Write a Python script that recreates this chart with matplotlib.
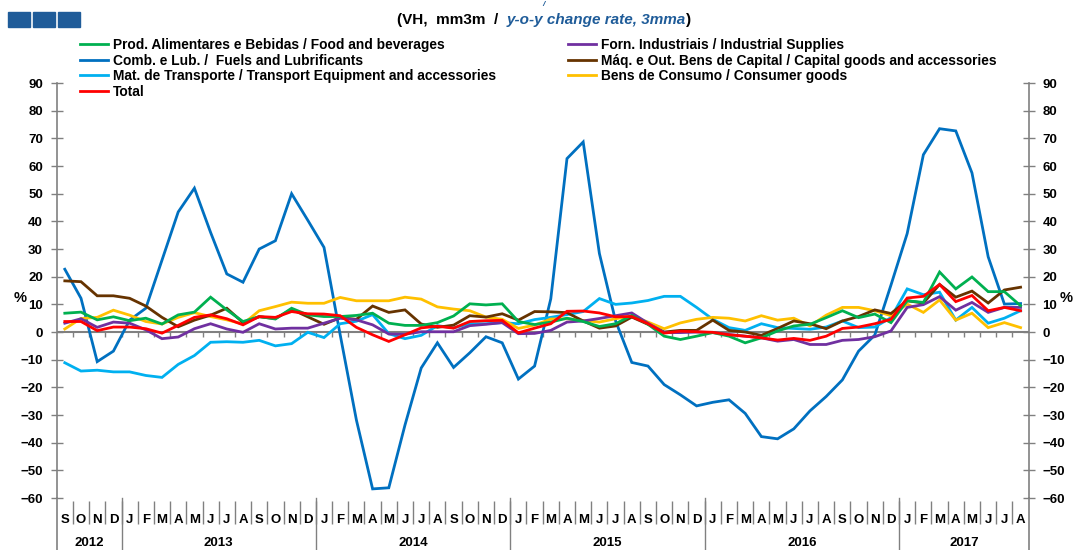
import numpy as np
import matplotlib.pyplot as plt
from matplotlib.patches import Rectangle
import matplotlib.transforms as mtransforms

plt.rcParams['font.family'] = ['Liberation Sans', 'DejaVu Sans']
plt.rcParams['font.weight'] = 'bold'

# month / year categories (Sep 2012 - Aug 2017)
months = ["S", "O", "N", "D"] + ["J", "F", "M", "A", "M", "J", "J", "A", "S", "O", "N", "D"] * 4 \
    + ["J", "F", "M", "A", "M", "J", "J", "A"]
years = ["2012", "2013", "2014", "2015", "2016", "2017"]
year_len = [4, 12, 12, 12, 12, 8]

food = [6.8, 7.2, 4.4, 5.5, 4.1, 5.0, 2.9, 6.2, 7.2, 12.6, 8.0, 3.8, 5.6, 4.7, 8.6, 6.2, 5.6, 5.6, 6.0, 6.8,
        3.2, 2.4, 2.4, 3.4, 5.8, 10.2, 9.8, 10.2, 3.8, 2.7, 3.6, 5.0, 3.8, 2.0, 3.0, 6.0, 2.8, -1.5, -2.7, -1.5,
        -0.2, -1.5, -3.9, -2.1, 0.4, 2.2, 2.8, 5.2, 7.7, 5.2, 6.5, 3.4, 11.3, 10.7, 21.7, 15.6, 19.9, 14.6, 14.6, 9.5]
fuels = [22.7, 12.2, -10.7, -6.9, 4.3, 8.6, 26.0, 43.4, 52.0, 36.0, 21.0, 18.0, 30.0, 33.0, 50.0, 40.4, 30.6, -1.0,
         -31.8, -56.7, -56.3, -33.6, -13.0, -3.9, -12.8, -7.5, -1.7, -3.9, -17.0, -12.3, 12.0, 62.7, 68.7, 28.4,
         4.0, -11.0, -12.3, -19.0, -22.7, -26.7, -25.4, -24.5, -29.4, -37.8, -38.6, -35.0, -28.5, -23.3, -17.3,
         -6.9, -1.1, 17.0, 35.6, 64.1, 73.5, 72.7, 57.5, 27.2, 10.1, 10.3]
transport = [-11.1, -14.1, -13.8, -14.4, -14.4, -15.7, -16.4, -11.7, -8.5, -3.7, -3.5, -3.7, -3.0, -5.0, -4.2,
             -0.1, -2.0, 3.0, 3.9, 6.3, -0.6, -2.4, -1.2, 2.3, 1.5, 3.0, 3.0, 3.4, 3.0, 4.5, 5.3, 6.3, 7.4, 12.1,
             10.0, 10.5, 11.4, 12.9, 12.9, 8.9, 4.6, 1.6, 0.6, 3.0, 1.6, 1.3, 1.0, 1.8, 4.0, 1.6, 1.8, 5.2, 15.6,
             13.5, 14.4, 4.3, 8.9, 3.2, 5.0, 7.7]
total = [3.8, 3.8, 0.5, 1.8, 1.8, 1.2, -0.4, 2.4, 5.3, 6.2, 4.8, 2.6, 5.6, 5.3, 7.4, 6.6, 6.5, 5.9, 1.7, -1.0,
         -3.4, -1.0, 1.5, 2.1, 1.4, 3.8, 4.1, 4.2, -0.3, 1.4, 3.0, 7.5, 7.6, 6.9, 5.5, 5.6, 3.0, -0.4, 0.3, 0.1,
         -0.1, -1.0, -1.5, -2.1, -2.9, -2.3, -3.0, -1.5, 1.3, 1.8, 3.0, 4.6, 12.3, 12.9, 17.2, 11.0, 13.2, 7.7, 8.9, 7.7]
industrial = [3.2, 4.8, 1.7, 3.6, 3.2, 0.8, -2.4, -1.8, 1.2, 3.0, 1.1, -0.1, 3.0, 1.1, 1.4, 1.4, 3.2, 5.0, 4.4,
              2.6, -0.7, -0.8, 0.1, 0.1, 0.1, 2.3, 2.8, 3.4, -0.6, -0.5, 0.6, 3.6, 4.0, 4.9, 5.9, 6.9, 3.2, -0.2,
              -0.2, 0.0, -0.2, -0.9, -1.5, -2.1, -3.3, -2.7, -4.5, -4.5, -3.0, -2.7, -1.7, 0.4, 8.9, 9.9, 12.8,
              7.9, 10.7, 7.1, 8.9, 8.9]
capital = [18.5, 18.2, 13.1, 13.1, 12.2, 9.4, 5.3, 1.9, 4.3, 6.1, 8.6, 3.4, 5.5, 4.9, 8.2, 5.5, 2.8, 5.2, 4.6,
           9.4, 7.1, 8.0, 2.9, 1.7, 2.5, 5.9, 5.4, 6.6, 4.3, 7.4, 7.3, 7.0, 4.0, 1.4, 2.2, 5.4, 2.8, 0.0, 0.6,
           0.6, 4.3, 0.6, 0.0, -1.2, 1.3, 4.0, 3.0, 1.2, 4.0, 5.6, 8.0, 6.7, 11.3, 10.5, 17.2, 12.6, 14.8, 10.5,
           15.2, 16.2]
consumer = [1.1, 4.9, 5.3, 7.9, 6.1, 3.8, 2.9, 5.3, 7.0, 5.6, 4.4, 2.9, 7.7, 9.2, 10.8, 10.4, 10.4, 12.5, 11.3,
            11.3, 11.3, 12.6, 11.9, 9.1, 8.3, 7.7, 5.4, 4.6, 1.3, 2.5, 4.7, 4.8, 4.2, 3.6, 4.8, 5.8, 3.6, 1.2,
            3.3, 4.6, 5.3, 5.0, 4.0, 5.9, 4.3, 5.0, 2.2, 6.1, 8.9, 8.9, 7.7, 5.9, 10.1, 7.1, 11.6, 4.3, 6.8, 1.6,
            3.4, 1.6]

series = [
    ("Comb. e Lub. /  Fuels and Lubrificants", fuels, "#0070C0"),
    ("Mat. de Transporte / Transport Equipment and accessories", transport, "#00B0F0"),
    ("Bens de Consumo / Consumer goods", consumer, "#FFC000"),
    ("Máq. e Out. Bens de Capital / Capital goods and accessories", capital, "#663300"),
    ("Forn. Industriais / Industrial Supplies", industrial, "#7030A0"),
    ("Prod. Alimentares e Bebidas / Food and beverages", food, "#00B050"),
    ("Total", total, "#FF0000"),
]

fig = plt.figure(figsize=(10.74, 5.5), dpi=100)
ax = fig.add_axes([0.0528, 0.0945, 0.905, 0.7545])

x = np.arange(len(months))
handles = {}
for name, vals, col in series:
    ln, = ax.plot(x, vals, color=col, lw=2.0, solid_joinstyle='miter')
    handles[name] = ln

ax.set_xlim(-0.5, len(months) - 0.5)
ax.set_ylim(-60, 90)
ax.set_yticks(np.arange(-60, 91, 10))
ax.tick_params(axis='y', which='both', direction='inout', length=8, width=1, color='#808080',
               left=True, right=True, labelleft=True, labelright=True, labelsize=9.5, pad=6)
for lab in ax.get_yticklabels():
    lab.set_fontweight('bold')
ax.set_xticks([])
for s in ['top', 'bottom']:
    ax.spines[s].set_visible(False)
for s in ['left', 'right']:
    ax.spines[s].set_color('#808080')
    ax.spines[s].set_linewidth(1.2)

# zero line with category tick marks
ax.axhline(0, color='#808080', lw=1.5, zorder=1)
bounds = x[1:] - 0.5
ax.vlines(bounds, -1.8, 0, color='#808080', lw=1, zorder=1)

# category labels below the plot
trans = mtransforms.blended_transform_factory(ax.transData, ax.transAxes)
for i, m in enumerate(months):
    ax.text(i, -0.052, m, transform=trans, ha='center', va='center', fontsize=9.5, fontweight='bold')
ax.vlines(bounds, -0.062, -0.006, transform=trans, color='#808080', lw=1, clip_on=False)
start = -0.5
for yr, n in zip(years, year_len):
    ax.text(start + n / 2, -0.108, yr, transform=trans, ha='center', va='center', fontsize=9.5,
            fontweight='bold')
    start += n
    if start < len(months) - 0.5:
        ax.plot([start, start], [0, -0.14], transform=trans, color='#808080', lw=1, clip_on=False)
for edge in [-0.5, len(months) - 0.5]:
    ax.plot([edge, edge], [0, -0.14], transform=trans, color='#808080', lw=1.2, clip_on=False)

# % labels
fig.text(20 / 1074, 1 - 298 / 550, "%", ha='center', va='center', fontsize=10.5, fontweight='bold')
fig.text(1066 / 1074, 1 - 298 / 550, "%", ha='center', va='center', fontsize=10.5, fontweight='bold')

# legends
col1 = ["Prod. Alimentares e Bebidas / Food and beverages", "Comb. e Lub. /  Fuels and Lubrificants",
        "Mat. de Transporte / Transport Equipment and accessories", "Total"]
col2 = ["Forn. Industriais / Industrial Supplies", "Máq. e Out. Bens de Capital / Capital goods and accessories",
        "Bens de Consumo / Consumer goods"]
for names, xpos in [(col1, 80 / 1074), (col2, 568 / 1074)]:
    leg = fig.legend([handles[n] for n in names], names, loc='upper left', bbox_to_anchor=(xpos, 1 - 38 / 550),
                     frameon=False, fontsize=9.9, handlelength=2.0, handletextpad=0.4, labelspacing=0.12,
                     borderaxespad=0, borderpad=0)
    for t in leg.get_texts():
        t.set_fontweight('bold')

# subtitle
t1 = fig.text(397 / 1074, 1 - 20 / 550, "(VH,  mm3m  /  ", ha='left', va='center', fontsize=11,
              fontweight='bold')
t2 = ax.annotate("y-o-y change rate, 3mma", xy=(1, 0), xycoords=t1, ha='left', va='bottom', fontsize=11,
                 fontweight='bold', fontstyle='italic', color='#1F5C99', annotation_clip=False)
ax.annotate(")", xy=(1, 0), xycoords=t2, ha='left', va='bottom', fontsize=11, fontweight='bold',
            annotation_clip=False)
fig.text(543 / 1074, 1 - 1 / 550, "/", ha='center', va='top', fontsize=6, fontweight='bold',
         fontstyle='italic', color='#1F5C99')

# decorative squares top-left
for k in range(3):
    fig.add_artist(Rectangle(((8 + 25 * k) / 1074, 1 - 27 / 550), 22 / 1074, 15 / 550,
                             transform=fig.transFigure, color='#1F5C99'))

fig.savefig("out.png", dpi=100)
